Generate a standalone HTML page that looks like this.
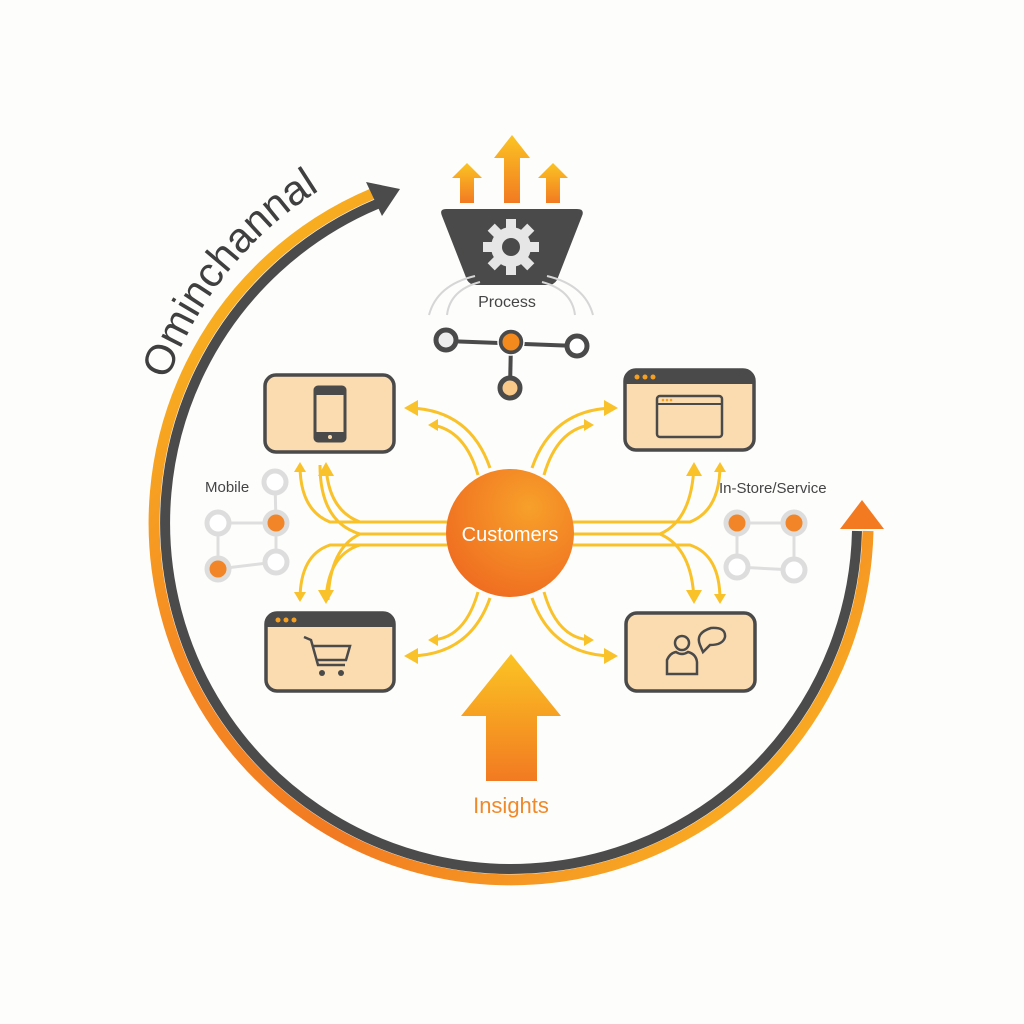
<!DOCTYPE html>
<html><head><meta charset="utf-8"><style>
html,body{margin:0;padding:0;background:#fdfdfc;}
svg{display:block;}
text{font-family:"Liberation Sans",sans-serif;}
</style></head><body>
<svg width="1024" height="1024" viewBox="0 0 1024 1024" xmlns="http://www.w3.org/2000/svg">
<defs>
<linearGradient id="ring" x1="0" y1="0" x2="1" y2="1">
<stop offset="0" stop-color="#f9c21f"/><stop offset="0.35" stop-color="#f58a23"/><stop offset="0.6" stop-color="#f27a22"/><stop offset="1" stop-color="#fbc424"/>
</linearGradient>
<linearGradient id="upg" x1="0" y1="0" x2="0" y2="1">
<stop offset="0" stop-color="#fbc423"/><stop offset="1" stop-color="#f27a22"/>
</linearGradient>
<radialGradient id="cust" cx="0.65" cy="0.3" r="0.8">
<stop offset="0" stop-color="#f7a02a"/><stop offset="1" stop-color="#ef6a20"/>
</radialGradient>
<path id="tp" d="M 168 380 A 368 368 0 0 1 372 163"/>
</defs>

<!-- big ring -->
<path d="M 868 531 A 357 357 0 1 1 372 194" fill="none" stroke="url(#ring)" stroke-width="11"/>
<path d="M 857 531 A 346 346 0 1 1 377 204" fill="none" stroke="#4b4b4b" stroke-width="10"/>
<polygon points="400,189 366,182 382,216" fill="#4b4b4b"/>
<polygon points="862,500 884,529 840,529" fill="#f47a22"/>
<text font-size="42" fill="#3f3f3f"><textPath href="#tp">Ominchannal</textPath></text>

<!-- top arrows -->
<polygon points="512,135 530,158 520,158 520,203 504,203 504,158 494,158" fill="url(#upg)"/>
<polygon points="467,163 482,178 474,178 474,203 460,203 460,178 452,178" fill="url(#upg)"/>
<polygon points="553,163 568,178 560,178 560,203 546,203 546,178 538,178" fill="url(#upg)"/>

<!-- funnel -->
<path d="M 446 209 L 577 209 Q 585 209 582 216 L 557 280 Q 554 285 548 285 L 476 285 Q 470 285 467 280 L 442 216 Q 439 209 446 209 Z" fill="#4a4a4a"/>
<g transform="translate(511,247)" fill="#e6e6e6">
<circle r="20"/>
<g id="t"><rect x="-5" y="-28" width="10" height="12"/></g>
<use href="#t" transform="rotate(45)"/><use href="#t" transform="rotate(90)"/><use href="#t" transform="rotate(135)"/>
<use href="#t" transform="rotate(180)"/><use href="#t" transform="rotate(225)"/><use href="#t" transform="rotate(270)"/><use href="#t" transform="rotate(315)"/>
<circle r="9" fill="#4a4a4a"/>
</g>
<g fill="none" stroke="#d6d6d6" stroke-width="2">
<path d="M 475 276 Q 437 285 429 315"/><path d="M 480 282 Q 450 290 447 315"/>
<path d="M 547 276 Q 585 285 593 315"/><path d="M 542 282 Q 572 290 575 315"/>
</g>
<text x="507" y="307" font-size="16" fill="#444" text-anchor="middle">Process</text>
<g stroke="#4a4a4a" stroke-width="4">
<line x1="446" y1="341" x2="577" y2="346"/><line x1="511" y1="342" x2="510" y2="388"/>
</g>
<circle cx="446" cy="340" r="10" fill="#eee" stroke="#4a4a4a" stroke-width="5"/>
<circle cx="511" cy="342" r="11" fill="#f48a1e" stroke="#4a4a4a" stroke-width="5"/>
<circle cx="511" cy="342" r="13" fill="none" stroke="#fff" stroke-width="1.5"/>
<circle cx="577" cy="346" r="10" fill="#fff" stroke="#4a4a4a" stroke-width="5"/>
<circle cx="510" cy="388" r="10" fill="#f9c98a" stroke="#4a4a4a" stroke-width="5"/>

<!-- yellow connectors -->
<g fill="none" stroke="#f9c22a" stroke-width="3">
<path d="M 490 468 Q 470 410 410 408"/><path d="M 478 475 Q 465 430 432 425"/>
<path d="M 532 468 Q 552 410 612 408"/><path d="M 544 475 Q 557 430 590 425"/>
<path d="M 490 598 Q 470 655 410 656"/><path d="M 478 592 Q 465 638 432 640"/>
<path d="M 532 598 Q 552 655 612 656"/><path d="M 544 592 Q 557 638 590 640"/>
<path d="M 447 522 L 330 522 Q 300 510 300 465"/><path d="M 447 534 L 360 534 Q 320 522 320 465"/>
<path d="M 447 545 L 330 545 Q 300 555 300 600"/><path d="M 447 534 L 360 534 Q 330 548 328 600"/>
<path d="M 447 522 L 360 522 Q 328 510 326 465"/>
<path d="M 573 522 L 690 522 Q 720 510 720 465"/><path d="M 573 534 L 660 534 Q 692 520 694 465"/>
<path d="M 573 545 L 690 545 Q 720 555 720 600"/><path d="M 573 534 L 660 534 Q 692 548 694 600"/>
<path d="M 447 545 L 360 545 Q 328 555 326 600"/>
</g>
<g fill="#f9c22a">
<polygon points="404,408 418,400 418,416"/><polygon points="428,425 438,419 438,431"/>
<polygon points="618,408 604,400 604,416"/><polygon points="594,425 584,419 584,431"/>
<polygon points="404,656 418,648 418,664"/><polygon points="428,640 438,634 438,646"/>
<polygon points="618,656 604,648 604,664"/><polygon points="594,640 584,634 584,646"/>
<polygon points="326,462 318,476 334,476"/><polygon points="300,462 294,472 306,472"/>
<polygon points="326,604 318,590 334,590"/><polygon points="300,602 294,592 306,592"/>
<polygon points="694,462 686,476 702,476"/><polygon points="720,462 714,472 726,472"/>
<polygon points="694,604 686,590 702,590"/><polygon points="720,604 714,594 726,594"/>
</g>

<!-- customers -->
<ellipse cx="510" cy="533" rx="64" ry="64" fill="url(#cust)"/>
<text x="510" y="541" font-size="20" fill="#fff" text-anchor="middle">Customers</text>

<!-- boxes -->
<g stroke="#4a4a4a" stroke-width="3.5" fill="#fbdcb0">
<rect x="265" y="375" width="129" height="77" rx="11"/>
<rect x="625" y="370" width="129" height="80" rx="11"/>
<rect x="266" y="613" width="128" height="78" rx="11"/>
<rect x="626" y="613" width="129" height="78" rx="11"/>
</g>
<path d="M 625 383 L 625 381 Q 625 370 636 370 L 743 370 Q 754 370 754 381 L 754 384 L 625 384 Z" fill="#4a4a4a"/>
<path d="M 266 626 L 266 624 Q 266 613 277 613 L 383 613 Q 394 613 394 624 L 394 627 L 266 627 Z" fill="#4a4a4a"/>
<g fill="#f7a020"><circle cx="637" cy="377" r="2.5"/><circle cx="645" cy="377" r="2.5"/><circle cx="653" cy="377" r="2.5"/>
<circle cx="278" cy="620" r="2.5"/><circle cx="286" cy="620" r="2.5"/><circle cx="294" cy="620" r="2.5"/></g>
<!-- phone -->
<rect x="315" y="387" width="30" height="54" rx="3" fill="#fbdcb0" stroke="#4a4a4a" stroke-width="3"/>
<rect x="315" y="387" width="30" height="8" fill="#4a4a4a"/><rect x="315" y="432" width="30" height="9" fill="#4a4a4a"/>
<circle cx="330" cy="437" r="2" fill="#fbdcb0"/>
<!-- browser -->
<rect x="657" y="396" width="65" height="41" rx="3" fill="#fbdcb0" stroke="#4a4a4a" stroke-width="2.5"/>
<line x1="657" y1="404" x2="722" y2="404" stroke="#4a4a4a" stroke-width="2"/>
<g fill="#f7a020"><circle cx="663" cy="400" r="1.3"/><circle cx="667" cy="400" r="1.3"/><circle cx="671" cy="400" r="1.3"/></g>
<!-- cart -->
<g fill="none" stroke="#4a4a4a" stroke-width="2.5"><path d="M 304 637 L 311 640 L 318 665 L 345 665"/><path d="M 313 646 L 350 646 L 346 660 L 317 660"/></g>
<circle cx="322" cy="673" r="3" fill="#4a4a4a"/><circle cx="341" cy="673" r="3" fill="#4a4a4a"/>
<!-- person -->
<g fill="none" stroke="#4a4a4a" stroke-width="2.5">
<circle cx="682" cy="643" r="7"/><path d="M 667 674 L 667 660 Q 670 653 676 652 Q 682 656 688 652 Q 696 654 697 662 L 697 674 Z"/>
<path d="M 700 645 Q 695 633 711 628 Q 726 627 725 637 Q 723 645 710 645 L 703 652 Z"/>
</g>

<!-- side networks -->
<g stroke="#dedede" stroke-width="3" fill="none">
<path d="M 275 482 L 276 523 L 276 562 M 218 523 L 276 523 M 218 569 L 276 562 M 218 523 L 218 569"/>
<path d="M 737 523 L 794 523 L 794 570 M 737 523 L 737 567 L 794 570"/>
</g>
<g stroke="#dddddd" stroke-width="5">
<circle cx="275" cy="482" r="11" fill="#fff"/><circle cx="218" cy="523" r="11" fill="#fff"/>
<circle cx="276" cy="523" r="11" fill="#f28528"/><circle cx="218" cy="569" r="11" fill="#f28528"/>
<circle cx="276" cy="562" r="11" fill="#fff"/>
<circle cx="737" cy="523" r="11" fill="#f28528"/><circle cx="794" cy="523" r="11" fill="#f28528"/>
<circle cx="737" cy="567" r="11" fill="#fff"/><circle cx="794" cy="570" r="11" fill="#fff"/>
</g>
<text x="205" y="492" font-size="15" fill="#444">Mobile</text>
<text x="719" y="493" font-size="15" fill="#444">In-Store/Service</text>

<!-- insights -->
<polygon points="511,654 561,716 537,716 537,781 486,781 486,716 461,716" fill="url(#upg)"/>
<text x="511" y="813" font-size="22" fill="#f0892a" text-anchor="middle">Insights</text>
</svg>
</body></html>
